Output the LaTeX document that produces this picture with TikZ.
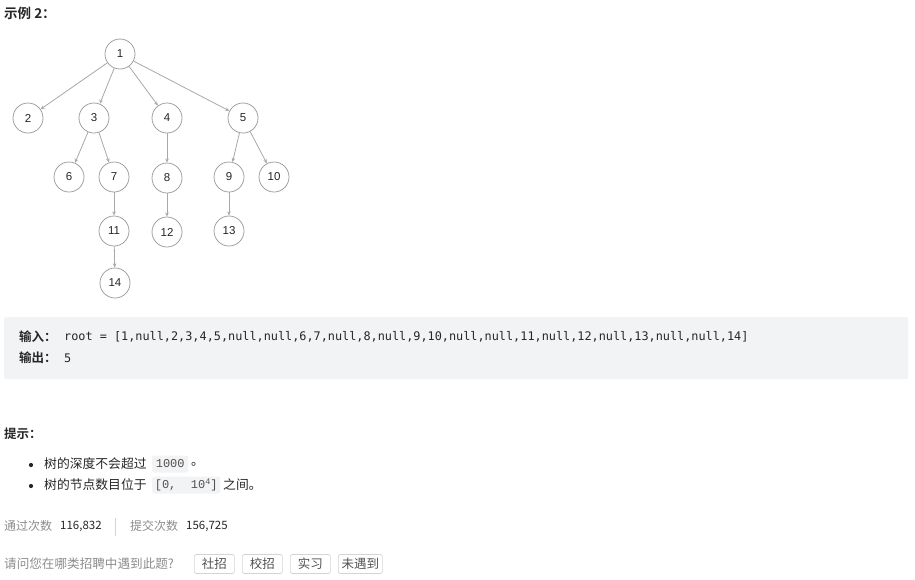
\documentclass[tikz,border=0pt]{standalone}
\usepackage{fontspec}
\setmainfont{Liberation Sans}
\newfontfamily\cjk{Noto Sans CJK SC}
\newfontfamily\cjkb{Noto Sans CJK SC Bold}
\newfontfamily\codefont{DejaVu Sans Mono}
\newfontfamily\inlinecode{Liberation Mono}
\usetikzlibrary{arrows.meta}
\definecolor{edgec}{HTML}{A8A8A8}
\definecolor{circc}{HTML}{A0A0A0}
\definecolor{boxbg}{HTML}{F2F3F5}
\definecolor{txt}{HTML}{262626}
\definecolor{graytxt}{HTML}{8C8C8C}
\definecolor{btnline}{HTML}{D4D4D4}
\tikzset{
  tnode/.style={circle,draw=circc,line width=0.8pt,minimum size=30pt,inner sep=0pt,
    font=\fontsize{11.5}{12}\selectfont,text=txt},
  tedge/.style={draw=edgec,line width=0.8pt,-{Stealth[length=4.2pt,width=3.6pt]}},
  lbl/.style={anchor=west,inner sep=0pt,text=txt},
  codebox/.style={fill=boxbg,rounded corners=2pt,inner sep=0pt},
  btn/.style={draw=btnline,line width=0.7pt,rounded corners=2pt,inner sep=0pt,
    minimum height=19pt,anchor=west,font=\cjk\fontsize{12.5}{13}\selectfont,text=txt!80}
}
\begin{document}
\begin{tikzpicture}[x=1pt,y=-1pt]
\useasboundingbox (0,0) rectangle (915,579);
% title
\node[lbl,font=\cjkb\fontsize{13.5}{14}\selectfont] (title) at (4,13) {示例 2：};
% tree
\node[tnode] (n1) at (120,54) {1};
\node[tnode] (n2) at (28,118) {2};
\node[tnode] (n3) at (94,118) {3};
\node[tnode] (n4) at (167,118) {4};
\node[tnode] (n5) at (243,118) {5};
\node[tnode] (n6) at (69,177) {6};
\node[tnode] (n7) at (114,177) {7};
\node[tnode] (n8) at (167,178) {8};
\node[tnode] (n9) at (229,177) {9};
\node[tnode] (n10) at (274,177) {10};
\node[tnode] (n11) at (114,231) {11};
\node[tnode] (n12) at (167,232) {12};
\node[tnode] (n13) at (229,231) {13};
\node[tnode] (n14) at (115,283) {14};
\foreach \a/\b in {n1/n2,n1/n3,n1/n4,n1/n5,n3/n6,n3/n7,n4/n8,n5/n9,n5/n10,n7/n11,n8/n12,n9/n13,n11/n14}
  \draw[tedge] (\a) -- (\b);
% example box
\node[codebox,anchor=north west,minimum width=904pt,minimum height=62pt] (ex) at (4,317) {};
\node[lbl,font=\cjkb\fontsize{12.5}{13}\selectfont] (inl) at (19,337) {输入：};
\node[lbl,font=\codefont\fontsize{11.84}{12}\selectfont] (inv) at (64,337) {root = [1,null,2,3,4,5,null,null,6,7,null,8,null,9,10,null,null,11,null,12,null,13,null,null,14]};
\node[lbl,font=\cjkb\fontsize{12.5}{13}\selectfont] (outl) at (19,358) {输出：};
\node[lbl,font=\codefont\fontsize{11.84}{12}\selectfont] (outv) at (64,358) {5};
% hints
\node[lbl,font=\cjkb\fontsize{12.5}{13}\selectfont] (hint) at (4,434) {提示：};
\fill[txt] (31,465) circle (2.1pt);
\fill[txt] (31,486) circle (2.1pt);
\node[lbl,font=\cjk\fontsize{12.8}{13}\selectfont] (h1) at (44,464) {树的深度不会超过};
\node[codebox,anchor=west,minimum width=36pt,minimum height=17pt,font=\inlinecode\fontsize{12}{12}\selectfont,text=txt!80] (c1) at (152,464) {1000};
\node[lbl,font=\cjk\fontsize{12.8}{13}\selectfont] (h1b) at (191,464) {。};
\node[lbl,font=\cjk\fontsize{12.8}{13}\selectfont] (h2) at (44,485) {树的节点数目位于};
\node[codebox,anchor=west,minimum width=68pt,minimum height=17pt,font=\inlinecode\fontsize{12}{12}\selectfont,text=txt!80] (c2) at (152,485) {[0,\ \ 10\raisebox{4pt}{\fontsize{8.5}{8}\selectfont 4}]};
\node[lbl,font=\cjk\fontsize{12.8}{13}\selectfont] (h2b) at (223,485) {之间。};
% stats
\node[lbl,font=\cjk\fontsize{12}{13}\selectfont,text=graytxt] (s1) at (4,526) {通过次数};
\node[lbl,font=\cjk\fontsize{11.5}{13}\selectfont] (s1v) at (60,526) {116,832};
\draw[btnline,line width=0.7pt] (115,518) -- (115,536);
\node[lbl,font=\cjk\fontsize{12}{13}\selectfont,text=graytxt] (s2) at (130,526) {提交次数};
\node[lbl,font=\cjk\fontsize{11.5}{13}\selectfont] (s2v) at (186,526) {156,725};
% question
\node[lbl,font=\cjk\fontsize{12.6}{13}\selectfont,text=graytxt] (q) at (4,564) {请问您在哪类招聘中遇到此题?};
\node[btn,minimum width=40pt] (b1) at (194,564) {社招};
\node[btn,minimum width=40pt] (b2) at (242,564) {校招};
\node[btn,minimum width=40pt] (b3) at (290,564) {实习};
\node[btn,minimum width=44pt] (b4) at (338,564) {未遇到};
\end{tikzpicture}
\end{document}
